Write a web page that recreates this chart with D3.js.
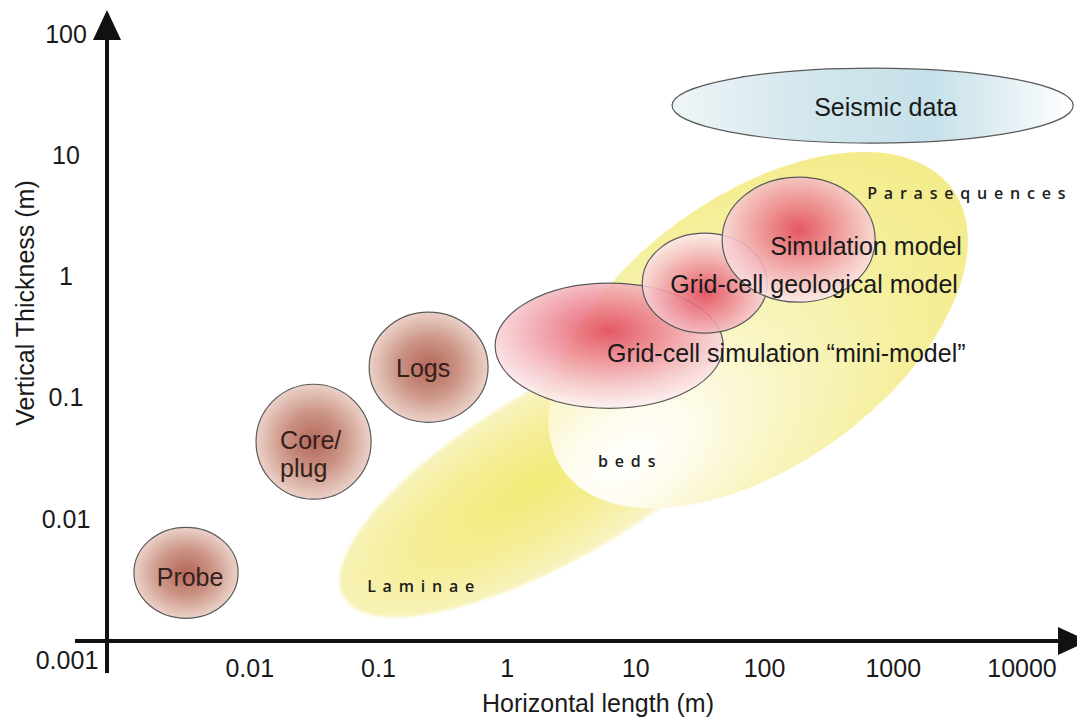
<!DOCTYPE html>
<html><head><meta charset="utf-8">
<script src="https://cdn.jsdelivr.net/npm/d3@7"></script>
<style>body{margin:0;background:#fff} svg{display:block}</style>
</head><body>
<svg id="chart" width="1077" height="726"></svg>
<script>
// ---------- data ----------
const xTickValues = [0.01, 0.1, 1, 10, 100, 1000, 10000];
const xTickLabels = ["0.01", "0.1", "1", "10", "100", "1000", "10000"];
const yTickValues = [100, 10, 1, 0.1, 0.01];
const yTickLabels = ["100", "10", "1", "0.1", "0.01"];
const originLabel = "0.001";

// measurement / model scales (extent in metres)
const scaleNames = ["Probe", "Core/\nplug", "Logs", "Grid-cell simulation \u201cmini-model\u201d", "Grid-cell geological model", "Simulation model", "Seismic data"];
const scaleKind  = ["measure", "measure", "measure", "model", "model", "model", "seismic"];
const scaleXMin  = [0.00126, 0.0112, 0.0847, 0.807, 11.2, 46.8, 19.1];
const scaleXMax  = [0.00813, 0.0877, 0.711, 47.7, 105, 723, 25000];
const scaleYMin  = [0.00151, 0.0145, 0.0624, 0.0814, 0.339, 0.61, 12.5];
const scaleYMax  = [0.00849, 0.1285, 0.505, 0.876, 2.26, 6.56, 52];
const labelX     = [0.00344, 0.01722, 0.2225, 5.98, 18.5, 110.5, 873];
const labelY     = [0.00329, 0.0334, 0.174, 0.234, 0.867, 1.785, 25.0];

// geological units (major axis from start to end, in metres)
const unitNames  = ["Laminae", "Beds-Parasequences"];
const unitStartX = [0.0537, 2.76];
const unitStartY = [0.00225, 0.0246];
const unitEndX   = [124, 2879];
const unitEndY   = [0.270, 5.23];
const unitAspect = [0.34, 0.56];

const unitLabels  = ["Laminae", "beds", "Parasequences"];
const unitLabelX  = [0.0817, 5.09, 627];
const unitLabelY  = [0.00247, 0.0266, 4.32];

// ---------- layout ----------
const svg = d3.select("#chart");
const x = d3.scaleLog().domain([0.001, 10000]).range([121, 1022]);
const y = d3.scaleLog().domain([0.001, 100]).range([640, 33.6]);
const axisX = 107, axisY = 641;
const font = "'Liberation Sans', Arial, Helvetica, sans-serif";
const fs = 25;

const defs = svg.append("defs");
defs.append("filter").attr("id", "soft").attr("x", "-20%").attr("y", "-20%").attr("width", "140%").attr("height", "140%")
  .append("feGaussianBlur").attr("stdDeviation", 1.5);

function radial(id, cx, cy, r, stops) {
  const g = defs.append("radialGradient").attr("id", id).attr("cx", cx).attr("cy", cy).attr("r", r);
  stops.forEach(s => g.append("stop").attr("offset", s[0]).attr("stop-color", s[1]));
}
radial("gLam", 0.44, 0.5, 0.56, [[0, "#f2ea76"], [0.5, "#f5ee98"], [0.85, "#f8f3bd"], [1, "#fcf9dc"]]);
radial("gBig", 0.12, 0.6, 0.95, [[0, "#ffffff"], [0.15, "#fefcee"], [0.4, "#f9f5c2"], [0.7, "#f5ef9c"], [1, "#f3eb86"]]);
radial("gMeasure", 0.5, 0.5, 0.55, [[0, "#b4675a"], [0.45, "#ca9283"], [1, "#f2ded6"]]);
radial("gModel0", 0.5, 0.38, 0.6, [[0, "#e2435b"], [0.35, "#ec828e"], [0.75, "#f6c8cd"], [1, "#fcecee"]]);
radial("gModel1", 0.5, 0.6, 0.6, [[0, "#e2435b"], [0.35, "#ec828e"], [0.75, "#f6c8cd"], [1, "#fcecee"]]);
radial("gModel2", 0.5, 0.42, 0.6, [[0, "#e2435b"], [0.35, "#ec828e"], [0.75, "#f6c8cd"], [1, "#fcecee"]]);
const lg = defs.append("linearGradient").attr("id", "gSeis").attr("x1", 0).attr("x2", 1).attr("y1", 0).attr("y2", 0);
[[0, "#eef5f7"], [0.35, "#d2e6ed"], [0.65, "#c6e0e9"], [1, "#ffffff"]].forEach(s => lg.append("stop").attr("offset", s[0]).attr("stop-color", s[1]));

// ---------- geological units ----------
const units = unitNames.map((n, i) => {
  const x1 = x(unitStartX[i]), y1 = y(unitStartY[i]), x2 = x(unitEndX[i]), y2 = y(unitEndY[i]);
  const a = Math.hypot(x2 - x1, y2 - y1) / 2;
  return { n, cx: (x1 + x2) / 2, cy: (y1 + y2) / 2, a, b: a * unitAspect[i], ang: Math.atan2(y2 - y1, x2 - x1) * 180 / Math.PI, i };
});
svg.append("g").selectAll("ellipse").data(units).join("ellipse")
  .attr("transform", d => `translate(${d.cx},${d.cy}) rotate(${d.ang})`)
  .attr("rx", d => d.a).attr("ry", d => d.b)
  .attr("fill", d => d.i === 0 ? "url(#gLam)" : "url(#gBig)")
  .attr("filter", d => d.i === 0 ? "url(#soft)" : null);

// ---------- scales (ellipses) ----------
const items = scaleNames.map((n, i) => ({ n, i, k: scaleKind[i],
  x0: x(scaleXMin[i]), x1: x(scaleXMax[i]), y0: y(scaleYMax[i]), y1: y(scaleYMin[i]) }));
let modelIdx = 0;
items.forEach(d => { if (d.k === "model") d.m = modelIdx++; });
svg.append("g").selectAll("ellipse").data(items).join("ellipse")
  .attr("cx", d => (d.x0 + d.x1) / 2).attr("cy", d => (d.y0 + d.y1) / 2)
  .attr("rx", d => (d.x1 - d.x0) / 2).attr("ry", d => (d.y1 - d.y0) / 2)
  .attr("fill", d => d.k === "measure" ? "url(#gMeasure)" : d.k === "seismic" ? "url(#gSeis)" : `url(#gModel${d.m})`)
  .attr("fill-opacity", d => d.k === "model" ? 0.88 : 1)
  .attr("stroke", "#5a5a5a").attr("stroke-width", 1.2);

// labels of scales
const lab = svg.append("g").attr("font-family", font).attr("font-size", fs).attr("fill", "#1a1a1a");
items.forEach(d => {
  const lines = d.n.split("\n");
  const t = lab.append("text")
    .attr("x", x(labelX[d.i])).attr("y", y(labelY[d.i]))
    .attr("text-anchor", d.k === "model" || lines.length > 1 ? "start" : "middle")
    .attr("fill", d.k === "measure" ? "#33211b" : "#1a1a1a");
  if (lines.length === 1) {
    t.attr("dominant-baseline", "central").text(d.n);
  } else {
    lines.forEach((l, j) => t.append("tspan").attr("x", x(labelX[d.i]))
      .attr("dy", j === 0 ? -(lines.length - 1) * 14 + 8 : 28).text(l));
  }
});

// unit labels (letter-spaced)
svg.append("g").selectAll("text").data(unitLabels).join("text")
  .attr("x", (d, i) => x(unitLabelX[i])).attr("y", (d, i) => y(unitLabelY[i]))
  .attr("font-family", "'Open Sans', 'Noto Sans', sans-serif").attr("font-size", 16)
  .attr("font-weight", 600)
  .attr("letter-spacing", 6.8).attr("fill", "#1c1c1c").text(d => d);

// ---------- axes ----------
const ax = svg.append("g").attr("stroke", "#111").attr("stroke-width", 4);
ax.append("line").attr("x1", axisX).attr("x2", axisX).attr("y1", 673).attr("y2", 36);
ax.append("line").attr("x1", 75).attr("x2", 1060).attr("y1", axisY).attr("y2", axisY);
svg.append("path").attr("fill", "#111")
  .attr("d", `M${axisX},10 L${axisX + 14},40 L${axisX - 14},40 Z`);
svg.append("path").attr("fill", "#111")
  .attr("d", `M1088,${axisY} L1058,${axisY - 14} L1058,${axisY + 14} Z`);

const tk = svg.append("g").attr("font-family", font).attr("font-size", fs).attr("fill", "#1a1a1a");
tk.selectAll("text.xt").data(xTickValues).join("text").attr("class", "xt")
  .attr("x", d => x(d)).attr("y", 668).attr("text-anchor", "middle").attr("dominant-baseline", "central")
  .text((d, i) => xTickLabels[i]);
tk.selectAll("text.yt").data(yTickValues).join("text").attr("class", "yt")
  .attr("x", 66).attr("y", d => y(d)).attr("text-anchor", "middle").attr("dominant-baseline", "central")
  .text((d, i) => yTickLabels[i]);
tk.append("text").attr("x", 67).attr("y", y(0.001) + 20).attr("text-anchor", "middle")
  .attr("dominant-baseline", "central").text(originLabel);

tk.append("text").attr("x", 598).attr("y", 703).attr("text-anchor", "middle").attr("dominant-baseline", "central")
  .text("Horizontal length (m)");
tk.append("text").attr("transform", "translate(25,303) rotate(-90)").attr("text-anchor", "middle")
  .attr("dominant-baseline", "central").text("Vertical Thickness (m)");
</script>
</body></html>
